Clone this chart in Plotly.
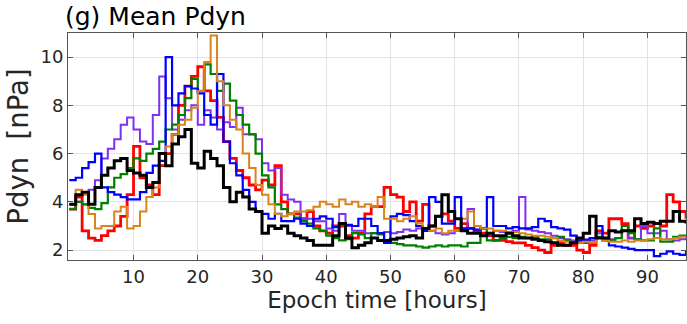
import plotly.graph_objects as go

hours = list(range(0, 97))

red = [3.7, 4.2, 2.8, 2.5, 2.4, 2.6, 2.8, 3.0, 3.4, 4.3,
       6.3, 5.0, 4.7, 4.3, 5.5, 6.0, 6.8, 8.0, 8.8, 9.2,
       9.6, 8.6, 8.2, 7.5, 6.5, 5.8, 5.3, 5.0, 4.7, 4.5,
       4.9, 4.7, 5.5, 4.0, 3.5, 3.5, 3.3, 3.6, 3.0, 2.8,
       2.7, 3.0, 3.0, 2.6, 2.5, 2.7, 3.5, 3.8, 3.8, 4.6,
       4.3, 4.2, 3.6, 4.0, 3.2, 3.9, 3.0, 3.4, 3.5, 3.2,
       2.9, 3.1, 2.9, 2.8, 2.7, 2.6, 2.4, 2.4, 2.35, 2.3,
       2.3, 2.2, 2.1, 2.0, 1.9, 2.2, 2.3, 2.2, 2.2, 2.0,
       1.9, 2.2, 2.8, 2.7, 3.3, 3.3, 3.1, 2.5, 3.0, 2.9,
       3.0, 3.1, 3.0, 4.3, 4.0, 3.6, 3.3]

purple = [3.9, 4.0, 3.9, 4.5, 4.9, 5.8, 6.2, 6.6, 7.2, 7.5,
          7.0, 6.5, 6.4, 7.6, 9.2, 8.3, 7.0, 7.4, 7.8, 8.0,
          7.2, 7.8, 7.5, 7.0, 7.3, 7.1, 7.9, 6.8, 6.8, 6.6,
          5.6, 5.3, 5.4, 4.3, 4.1, 4.0, 3.3, 3.3, 3.2, 3.2,
          2.9, 2.8, 3.5, 3.0, 2.8, 2.8, 2.7, 2.7, 2.7, 2.75,
          2.7, 2.75, 2.85, 2.8, 2.9, 2.85, 2.8, 2.7, 2.65, 2.7,
          2.8, 2.9, 3.7, 3.0, 2.6, 2.7, 2.8, 2.75, 2.75, 2.8,
          4.2, 2.85, 2.8, 2.75, 2.7, 2.6, 2.5, 2.45, 2.4, 2.4,
          2.45, 2.4, 2.7, 2.5, 2.45, 2.5, 2.8, 2.5, 2.45, 3.0,
          2.7, 2.7, 2.8, 2.45, 2.4, 2.45, 2.5]

green = [3.7, 4.0, 3.9, 3.75, 3.7, 3.95, 4.6, 5.0, 5.15, 5.4,
         5.8, 5.7, 6.0, 6.2, 6.5, 7.0, 7.2, 7.6, 8.3, 9.1,
         8.6, 9.7, 9.3, 8.6, 8.9, 8.2, 7.6, 7.2, 6.8, 6.0,
         5.1, 4.6, 3.9, 3.7, 3.5, 3.35, 3.2, 3.1, 2.9, 2.8,
         2.6, 2.5, 2.4, 2.45, 2.7, 2.65, 2.5, 2.7, 2.65, 2.3,
         2.3, 2.25, 2.2, 2.2, 2.15, 2.1, 2.15, 2.2, 2.15, 2.2,
         2.2, 2.15, 2.3, 2.3, 2.9, 2.4, 2.4, 2.5, 2.55, 2.5,
         2.55, 2.5, 2.55, 2.45, 2.45, 2.5, 2.55, 2.4, 2.3, 2.3,
         2.3, 2.3, 2.55, 2.5, 2.4, 2.5, 3.0, 2.7, 2.45, 2.4,
         2.4, 2.9, 2.35, 2.35, 2.55, 2.6, 2.6]

blue = [4.9, 5.0, 5.4, 5.65, 6.0, 4.6, 4.4, 4.3, 4.2, 4.1,
        4.1, 4.4, 5.2, 5.5, 5.7, 10.0, 8.0, 8.5, 8.8, 8.7,
        8.5, 7.6, 7.2, 9.3, 6.5, 5.6, 5.1, 4.5, 4.0, 3.6,
        3.5, 3.3, 3.5, 3.2, 3.2, 3.3, 3.1, 3.0, 3.3, 3.4,
        3.3, 2.95, 3.1, 3.05, 3.0, 3.3, 3.3, 3.0, 2.7, 2.3,
        3.4, 3.5, 3.45, 3.2, 3.0, 2.8, 4.2, 4.0, 3.1, 3.1,
        4.2, 2.9, 2.9, 2.85, 2.9, 4.2, 3.0, 3.0, 2.9, 2.95,
        2.9, 2.9, 2.95, 3.3, 3.2, 2.95, 2.9, 2.85, 2.6, 2.4,
        2.4, 2.5, 3.0, 2.4, 2.2, 2.15, 2.1, 2.05, 2.0, 2.0,
        2.0, 1.75, 1.85, 1.95, 1.85, 1.8, 2.0]

orange = [3.9, 4.5, 4.3, 3.5, 2.9, 3.0, 3.0, 3.6, 3.8, 2.9,
          3.0, 3.6, 4.2, 4.6, 6.0, 6.3, 6.8, 7.2, 7.4, 7.9,
          8.6, 9.8, 10.9, 9.0, 8.0, 7.4, 7.0, 6.0, 5.4, 4.7,
          4.3, 3.9, 3.5, 3.4, 3.5, 3.6, 3.6, 3.65, 3.8, 4.0,
          3.9, 3.8, 4.1, 3.9, 4.0, 3.8, 3.9, 3.8, 4.2, 3.3,
          3.3, 3.2, 3.3, 3.4, 3.1, 2.9, 2.8, 2.9, 2.7, 2.8,
          2.8, 3.3, 3.6, 3.0, 2.9, 2.9, 2.8, 2.8, 2.75, 2.75,
          2.7, 2.65, 2.6, 2.6, 2.55, 2.5, 2.4, 2.35, 2.3, 2.3,
          2.35, 2.3, 2.5, 2.4, 2.35, 2.35, 2.4, 2.35, 2.4, 2.4,
          2.45, 2.5, 2.45, 2.45, 2.5, 2.55, 2.55]

black = [3.9, 4.3, 4.4, 3.9, 4.6, 5.1, 5.4, 5.7, 5.8, 5.3,
         5.2, 5.1, 4.6, 4.8, 6.0, 5.5, 6.4, 6.7, 7.0, 5.6,
         5.4, 6.1, 5.8, 5.5, 4.6, 4.0, 4.4, 4.2, 3.7, 3.6,
         2.7, 3.0, 2.9, 3.0, 2.7, 2.6, 2.5, 2.4, 2.2, 2.2,
         2.2, 2.6, 3.1, 2.5, 2.1, 2.2, 2.3, 2.5, 2.4, 2.4,
         2.45, 2.5, 2.55, 2.6, 2.5, 2.9, 3.0, 3.4, 4.3, 3.6,
         3.3, 2.8, 2.7, 2.7, 2.6, 2.7, 2.6, 2.6, 2.7, 2.6,
         2.5, 2.5, 2.45, 2.4, 2.35, 2.3, 2.2, 2.2, 2.3, 2.5,
         2.7, 3.4, 2.5, 2.5, 2.8, 2.75, 2.8, 2.8, 3.3, 3.1,
         3.15, 3.1, 3.2, 3.2, 3.6, 3.2, 3.1]

x_ticks = [10, 20, 30, 40, 50, 60, 70, 80, 90]
y_ticks = [2, 4, 6, 8, 10]

series = [
    ("red", red, "#FF0000", 2.8),
    ("purple", purple, "#8030F0", 2.0),
    ("green", green, "#008000", 2.2),
    ("blue", blue, "#0000FF", 2.2),
    ("orange", orange, "#D9841A", 2.0),
    ("black", black, "#000000", 3.0),
]

fig = go.Figure()
for name, vals, col, w in series:
    fig.add_trace(go.Scatter(x=hours, y=vals, mode="lines", name=name,
                             line=dict(color=col, width=w, shape="hv"),
                             showlegend=False))

FONT = "DejaVu Sans"
axis_common = dict(
    showline=True, linecolor="#555555", linewidth=1, mirror="ticks",
    ticks="inside", ticklen=5, tickcolor="#555555", tickwidth=1,
    showgrid=True, gridcolor="#e3e3e3", gridwidth=1, zeroline=False,
    tickfont=dict(family=FONT, size=18, color="#262626"),
)

fig.update_layout(
    width=687, height=324,
    margin=dict(l=68, r=1, t=33, b=64),
    paper_bgcolor="white", plot_bgcolor="white",
    xaxis=dict(range=[-0.2, 96.0], tickvals=x_ticks,
               title=dict(text="Epoch time [hours]", standoff=6,
                          font=dict(family=FONT, size=23, color="#262626")),
               **axis_common),
    yaxis=dict(range=[1.59, 11.0], tickvals=y_ticks,
               title=dict(text="Pdyn  [nPa]", standoff=3,
                          font=dict(family=FONT, size=27.5, color="#262626")),
               **axis_common),
    annotations=[dict(text="(g) Mean Pdyn", xref="paper", yref="paper",
                      x=0, y=1, xanchor="left", yanchor="bottom",
                      xshift=-5, yshift=0, showarrow=False,
                      font=dict(family=FONT, size=25, color="#000000"))],
)

fig.write_html("out.html")
